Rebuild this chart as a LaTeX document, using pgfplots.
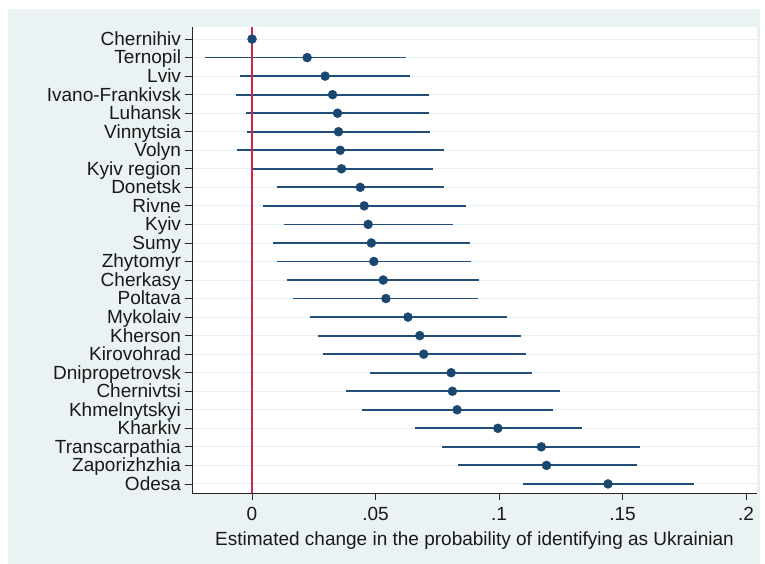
\documentclass[border=0pt]{standalone}
\usepackage{pgfplots}
\pgfplotsset{compat=1.18}
\usepackage{pgfplotstable}
\usepackage{fontspec}
\setmainfont{Liberation Sans}
\definecolor{bgc}{RGB}{234,242,243}
\definecolor{navy}{RGB}{26,71,111}
\definecolor{ciline}{RGB}{33,78,120}
\definecolor{redl}{RGB}{214,32,72}
\definecolor{gridc}{RGB}{232,239,241}

\pgfplotstableread{
pos est lo hi
0 0.0 0.0 0.0
1 0.0223 -0.0190 0.0623
2 0.0296 -0.0049 0.0640
3 0.0326 -0.0065 0.0718
4 0.0346 -0.0024 0.0718
5 0.0350 -0.0022 0.0720
6 0.0357 -0.0061 0.0777
7 0.0362 -0.0005 0.0731
8 0.0438 0.0103 0.0776
9 0.0454 0.0046 0.0868
10 0.0470 0.0130 0.0812
11 0.0483 0.0084 0.0884
12 0.0493 0.0103 0.0885
13 0.0531 0.0143 0.0918
14 0.0542 0.0165 0.0915
15 0.0631 0.0233 0.1033
16 0.0679 0.0269 0.1090
17 0.0695 0.0289 0.1110
18 0.0806 0.0479 0.1134
19 0.0811 0.0381 0.1245
20 0.0830 0.0445 0.1219
21 0.0995 0.0658 0.1335
22 0.1171 0.0770 0.1572
23 0.1192 0.0833 0.1557
24 0.1441 0.1095 0.1790
}\data

\begin{document}
\begin{tikzpicture}
\path[use as bounding box] (-192bp,-71bp) rectangle (573bp,493bp);
\fill[bgc] (-184bp,-71bp) rectangle (568bp,484bp);
\begin{axis}[
  at={(0,0)}, anchor=south west,
  scale only axis, width=565bp, height=466bp,
  axis background/.style={fill=white},
  xmin=-0.0243, xmax=0.2044,
  ymin=-0.65, ymax=24.49,
  y dir=reverse,
  axis x line*=bottom, axis y line*=left,
  axis line style={black!85, line width=0.8bp},
  xtick={0,0.05,0.1,0.15,0.2},
  xticklabels={0,.05,.1,.15,.2},
  ytick={0,...,24},
  yticklabels={Chernihiv,Ternopil,Lviv,Ivano-Frankivsk,Luhansk,Vinnytsia,Volyn,Kyiv region,Donetsk,Rivne,Kyiv,Sumy,Zhytomyr,Cherkasy,Poltava,Mykolaiv,Kherson,Kirovohrad,Dnipropetrovsk,Chernivtsi,Khmelnytskyi,Kharkiv,Transcarpathia,Zaporizhzhia,Odesa},
  tick align=outside,
  major tick length=6.5bp,
  tick style={black!85, line width=0.8bp},
  ticklabel style={font=\fontsize{19bp}{20bp}\selectfont, text=black!90},
  yticklabel style={xshift=-1bp, text height=13.8bp, text depth=4bp, yshift=-1.5bp, inner ysep=0pt},
  xticklabel style={yshift=-4bp},
  ymajorgrids,
  grid style={gridc, line width=0.9bp},
  xlabel={Estimated change in the probability of identifying as Ukrainian},
  xlabel style={font=\fontsize{19bp}{20bp}\selectfont, text=black!90, yshift=-4bp},
  clip=false,
]
\addplot[ciline, line width=1.8bp, draw=none, mark=none,
  error bars/.cd, x dir=both, x explicit, error mark=none,
  error bar style={ciline, line width=1.8bp}]
  table[x=est, y=pos,
    x error plus expr=\thisrow{hi}-\thisrow{est},
    x error minus expr=\thisrow{est}-\thisrow{lo}] {\data};
\draw[redl, line width=1.8bp] (axis cs:0,-0.65) -- (axis cs:0,24.49);
\addplot[only marks, mark=*, mark size=4.5bp, mark options={fill=navy, draw=navy}]
  table[x=est, y=pos] {\data};
\end{axis}
\end{tikzpicture}
\end{document}
